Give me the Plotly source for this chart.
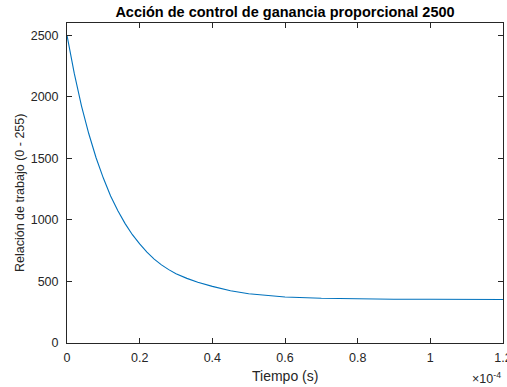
import plotly.graph_objects as go

# Time (units of 1e-4 s) and duty ratio
tiempo_e4 = [0, 0.02, 0.04, 0.06, 0.08, 0.10, 0.12, 0.14, 0.16, 0.18, 0.20,
             0.22, 0.24, 0.26, 0.28, 0.30, 0.33, 0.36, 0.40, 0.45, 0.50,
             0.55, 0.60, 0.70, 0.80, 0.90, 1.00, 1.10, 1.20]
relacion = [2500, 2190, 1925, 1700, 1505, 1340, 1195, 1075, 970, 880, 805,
            738, 682, 635, 596, 563, 525, 494, 460, 425, 400,
            385, 374, 363, 358, 356, 355, 354, 354]

x_ticks = [0, 0.2, 0.4, 0.6, 0.8, 1.0, 1.2]
x_tick_labels = ["0", "0.2", "0.4", "0.6", "0.8", "1", "1.2"]
y_ticks = [0, 500, 1000, 1500, 2000, 2500]

tiempo = [round(t * 1e-4, 12) for t in tiempo_e4]
FONT = "Arial, Liberation Sans, Helvetica, sans-serif"
AX = "#262626"

fig = go.Figure()
fig.add_trace(go.Scatter(x=tiempo, y=relacion, mode="lines",
                         line=dict(color="#0072BD", width=1.1),
                         hoverinfo="skip"))

fig.update_layout(
    width=507, height=387,
    margin=dict(l=67, r=4, t=23, b=44),
    paper_bgcolor="white", plot_bgcolor="white",
    showlegend=False,
    font=dict(family=FONT, size=12, color=AX),
    title=dict(text="<b>Acción de control de ganancia proporcional 2500</b>",
               x=285 / 507, xanchor="center", y=1 - 12 / 387, yanchor="middle",
               font=dict(family=FONT, size=14.5, color="black")),
    xaxis=dict(range=[0, 0.00012], tickvals=[round(v * 1e-4, 12) for v in x_ticks],
               ticktext=x_tick_labels, ticklabeloverflow="allow", ticklabelstandoff=3,
               automargin=False,
               ticks="inside", ticklen=5, tickcolor=AX, showline=True, linecolor=AX, linewidth=1,
               mirror="ticks", showgrid=False, zeroline=False,
               tickfont=dict(size=12.5, color=AX)),
    yaxis=dict(range=[0, 2600], tickvals=y_ticks, ticklabelstandoff=5,
               automargin=False,
               ticks="inside", ticklen=5, tickcolor=AX, showline=True, linecolor=AX, linewidth=1,
               mirror="ticks", showgrid=False, zeroline=False,
               tickfont=dict(size=12.5, color=AX)),
)

fig.add_annotation(text="Tiempo (s)", xref="paper", yref="paper",
                   x=0.5, y=-(376 - 343) / 320, xanchor="center", yanchor="middle",
                   showarrow=False, font=dict(size=14, color=AX))
fig.add_annotation(text="Relación de trabajo (0 - 255)", xref="paper", yref="paper",
                   x=(20 - 67) / 436, y=(343 - 193) / 320, xanchor="center", yanchor="middle",
                   textangle=-90, showarrow=False, font=dict(size=12.5, color=AX))
fig.add_annotation(text="×10<sup>-4</sup>", xref="paper", yref="paper",
                   x=1.0, y=-(378 - 343) / 320, xanchor="right", yanchor="middle",
                   showarrow=False, font=dict(size=12.5, color=AX))

fig.write_html("out.html")
